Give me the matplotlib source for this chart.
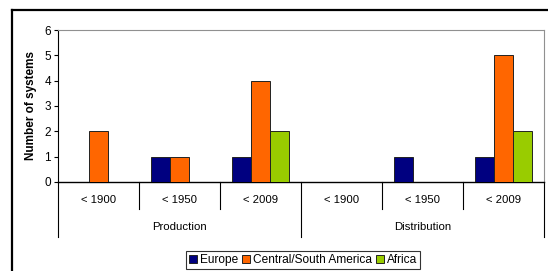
import matplotlib.pyplot as plt
from matplotlib.lines import Line2D
import numpy as np

plt.rcParams['font.family'] = ['Liberation Sans', 'DejaVu Sans']

# data
categories = ['< 1900', '< 1950', '< 2009', '< 1900', '< 1950', '< 2009']
groups = ['Production', 'Distribution']
series_names = ['Europe', 'Central/South America', 'Africa']
europe = [0, 1, 1, 0, 1, 1]
central_south_america = [2, 1, 4, 0, 0, 5]
africa = [0, 0, 2, 0, 0, 2]
colors = ['#000080', '#FF6600', '#99CC00']

W, H = 548, 271
fig = plt.figure(figsize=(W / 100, H / 100), dpi=100)
ax = fig.add_axes([58 / W, 1 - 182 / H, (544 - 58) / W, (182 - 30) / H])

x = np.arange(len(categories))
bw = 0.235
for i, (vals, name, c) in enumerate(zip([europe, central_south_america, africa], series_names, colors)):
    ax.bar(x + (i - 1) * bw, vals, bw, color=c, edgecolor='#222222', linewidth=0.7, label=name, zorder=3)

ax.set_xlim(-0.5, 5.5)
ax.set_ylim(0, 6)
ax.set_yticks(range(7))
ax.tick_params(axis='y', labelsize=8.5, length=3, width=0.8, pad=2)
ax.set_xticks([])
for s in ['top', 'right']:
    ax.spines[s].set_color('#909090')
    ax.spines[s].set_linewidth(0.8)
ax.spines['left'].set_color('#000000')
ax.spines['bottom'].set_color('#000000')
ax.spines['left'].set_linewidth(0.8)
ax.spines['bottom'].set_linewidth(1.0)
ax.set_ylabel('Number of systems', fontsize=8.5, fontweight='bold', labelpad=5)

# multi-level category axis
tr = ax.get_xaxis_transform()
short_y = (182 - 209) / 152
long_y = (182 - 237) / 152
for sep in [-0.5, 0.5, 1.5, 2.5, 3.5, 4.5, 5.5]:
    y_end = long_y if sep in (-0.5, 2.5, 5.5) else short_y
    ax.plot([sep, sep], [0, y_end], transform=tr, color='black', lw=0.8, clip_on=False)
for xi, lab in zip(x, categories):
    ax.text(xi, (182 - 200) / 152, lab, transform=tr, ha='center', va='center', fontsize=8.2)
for gi, g in enumerate(groups):
    ax.text(gi * 3 + 1, (182 - 227) / 152, g, transform=tr, ha='center', va='center', fontsize=8.2)

# legend
leg = fig.legend(loc='upper left', bbox_to_anchor=(186 / W, 1 - 251 / H), ncol=3, fontsize=8.6,
                 frameon=True, fancybox=False, edgecolor='black', borderpad=0.25,
                 handlelength=0.65, handleheight=0.65, handletextpad=0.25, columnspacing=0.35,
                 borderaxespad=0)
leg.get_frame().set_linewidth(0.8)

# outer chart border (cropped)
fig.add_artist(Line2D([12 / W, 1], [1 - 9.5 / H, 1 - 9.5 / H], color='black', lw=1.6))
fig.add_artist(Line2D([12 / W, 12 / W], [0, 1 - 9.5 / H], color='black', lw=1.6))

fig.savefig('out.png', dpi=100)
